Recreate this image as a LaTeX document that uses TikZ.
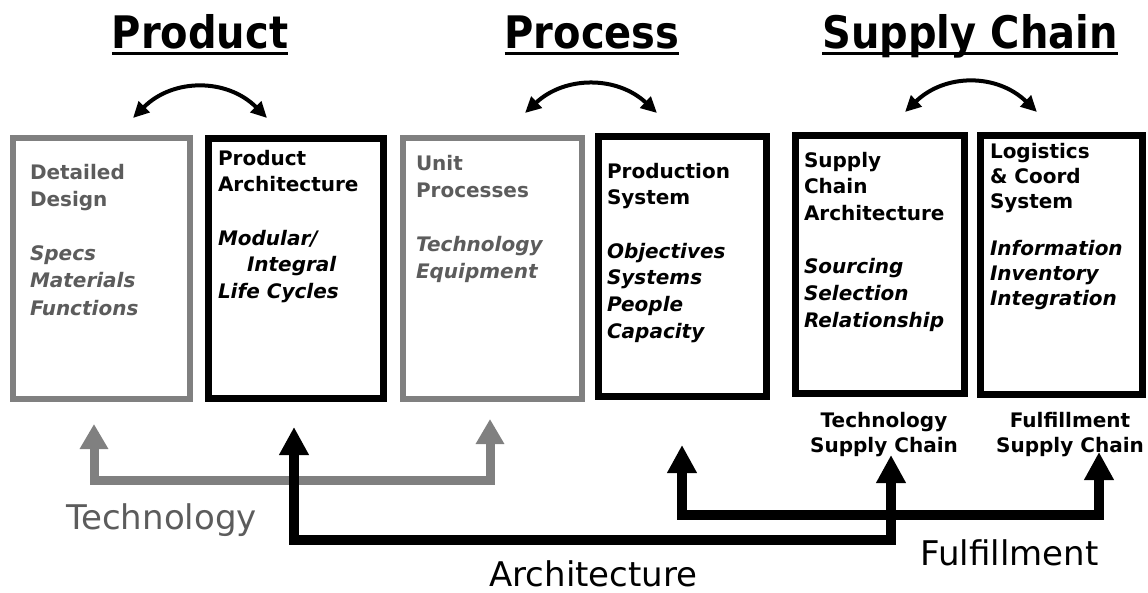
\documentclass[tikz,border=0pt]{standalone}
\usepackage{fontspec}
\setmainfont{DejaVu Sans}
\usepackage{graphicx}
\usetikzlibrary{arrows.meta}

\definecolor{framegray}{RGB}{128,128,128}
\definecolor{textgray}{RGB}{92,92,92}

% stacked lines with a fixed baseline pitch; the node baseline is the first line
\newcommand{\linestack}[2]{\vtop{\baselineskip=#1\relax #2}}
% two centred lines
\newcommand{\twoline}[2]{\vtop{\baselineskip=25pt\halign{\hfil##\hfil\cr#1\cr#2\cr}}}

\begin{document}
\begin{tikzpicture}[x=1pt,y=-1pt,
  every node/.style={inner sep=0pt,outer sep=0pt},
  graybox/.style={draw=framegray,line width=6pt,rectangle},
  blackbox/.style={draw=black,line width=7pt,rectangle},
  heading/.style={font=\fontsize{40}{48}\selectfont\bfseries,anchor=base},
  bodytext/.style={font=\fontsize{20}{26}\selectfont\bfseries,anchor=base west},
  sublabel/.style={font=\fontsize{20}{25}\selectfont\bfseries,anchor=base},
  biglabel/.style={font=\fontsize{34}{40}\selectfont,anchor=base},
  swaparrow/.style={line width=4pt,{Triangle[length=16pt,width=15pt]}-{Triangle[length=16pt,width=15pt]}},
  techlink/.style={draw=framegray,line width=9pt,line join=miter,
    {Triangle[length=25pt,width=27pt]}-{Triangle[length=25pt,width=27pt]}},
  flowlink/.style={draw=black,line width=10pt,line join=miter,
    {Triangle[length=28pt,width=28pt]}-{Triangle[length=28pt,width=28pt]}}
]
\fill[white] (0,0) rectangle (1148,592);
\useasboundingbox (0,0) rectangle (1148,592);

% headings
\node[heading] (hprod) at (200,48) {\scalebox{1}[1.12]{Product}};
\node[heading] (hproc) at (592,48) {\scalebox{1}[1.12]{Process}};
\node[heading] (hsc)   at (970,48) {\scalebox{1}[1.12]{Supply Chain}};
\foreach \h in {hprod,hproc,hsc}
  \draw[line width=3.2pt] ([yshift=-5.3pt]\h.base west) -- ([yshift=-5.3pt]\h.base east);

% boxes
\node[graybox,minimum width=177pt,minimum height=261pt]  (b1) at (101.5,268.5) {};
\node[blackbox,minimum width=175pt,minimum height=260pt] (b2) at (296,268.5) {};
\node[graybox,minimum width=179pt,minimum height=261pt]  (b3) at (492.5,268.5) {};
\node[blackbox,minimum width=168pt,minimum height=260pt] (b4) at (682.5,266.5) {};
\node[blackbox,minimum width=169pt,minimum height=258pt] (b5) at (880,264.5) {};
\node[blackbox,minimum width=162pt,minimum height=259pt] (b6) at (1061.5,265) {};

% box contents
\node[bodytext,text=textgray] (t1) at (30,179) {\linestack{27.2pt}{%
  \hbox{Detailed}\hbox{Design}\hbox{}%
  \hbox{\itshape Specs}\hbox{\itshape Materials}\hbox{\itshape Functions}}};
\node[bodytext] (t2) at (218,165) {\linestack{26.7pt}{%
  \hbox{Product}\hbox{Architecture}\hbox{}%
  \hbox{\itshape Modular/}\hbox{\hskip29pt\itshape Integral}\hbox{\itshape Life Cycles}}};
\node[bodytext,text=textgray] (t3) at (416,170) {\linestack{27pt}{%
  \hbox{Unit}\hbox{Processes}\hbox{}%
  \hbox{\itshape Technology}\hbox{\itshape Equipment}}};
\node[bodytext] (t4) at (607,178) {\linestack{26.7pt}{%
  \hbox{Production}\hbox{System}\hbox{}%
  \hbox{\itshape Objectives}\hbox{\itshape Systems}\hbox{\itshape People}\hbox{\itshape Capacity}}};
\node[bodytext] (t5) at (804,167) {\linestack{26.7pt}{%
  \hbox{Supply}\hbox{Chain}\hbox{Architecture}\hbox{}%
  \hbox{\itshape Sourcing}\hbox{\itshape Selection}\hbox{\itshape Relationship}}};
\node[bodytext] (t6) at (990,158) {\linestack{25pt}{%
  \hbox{Logistics}\hbox{\& Coord}\hbox{System}\hbox{}\vskip-3pt
  \hbox{\itshape Information}\hbox{\itshape Inventory}\hbox{\itshape Integration}}};

% curved exchange arrows above each pair
\coordinate (s1a) at (133,118); \coordinate (s1b) at (267,118);
\coordinate (s2a) at (525,113); \coordinate (s2b) at (657,113);
\coordinate (s3a) at (905,112); \coordinate (s3b) at (1037,112);
\draw[swaparrow] (s1a) .. controls (173,78) and (227,78) .. (s1b);
\draw[swaparrow] (s2a) .. controls (565,75.7) and (617,75.7) .. (s2b);
\draw[swaparrow] (s3a) .. controls (945,73.3) and (997,73.3) .. (s3b);

% labels under the supply chain boxes
\node[sublabel] (tsc) at (884,427) {\twoline{Technology}{Supply Chain}};
\node[sublabel] (fsc) at (1070,427) {\twoline{Fulfillment}{Supply Chain}};

% technology link
\coordinate (tA) at (94,424);  \coordinate (tB) at (490,419);  \coordinate (tbus) at (0,480);
\draw[techlink] (tA) -- (tA |- tbus) -- (tB |- tbus) -- (tB);

% architecture and fulfillment links
\coordinate (aA) at (294,427); \coordinate (aB) at (891,455);  \coordinate (abus) at (0,540);
\coordinate (fA) at (682,445); \coordinate (fB) at (1099,452); \coordinate (fbus) at (0,515);
\draw[flowlink] (aA) -- (aA |- abus) -- (aB |- abus) -- (aB);
\draw[flowlink] (fA) -- (fA |- fbus) -- (fB |- fbus) -- (fB);

% link names
\node[biglabel,text=textgray] (ltech) at (161.5,529) {Technology};
\node[biglabel] (larch) at (593.5,586) {Architecture};
\node[biglabel] (lful)  at (1009.5,565) {Fulfillment};
\end{tikzpicture}
\end{document}
